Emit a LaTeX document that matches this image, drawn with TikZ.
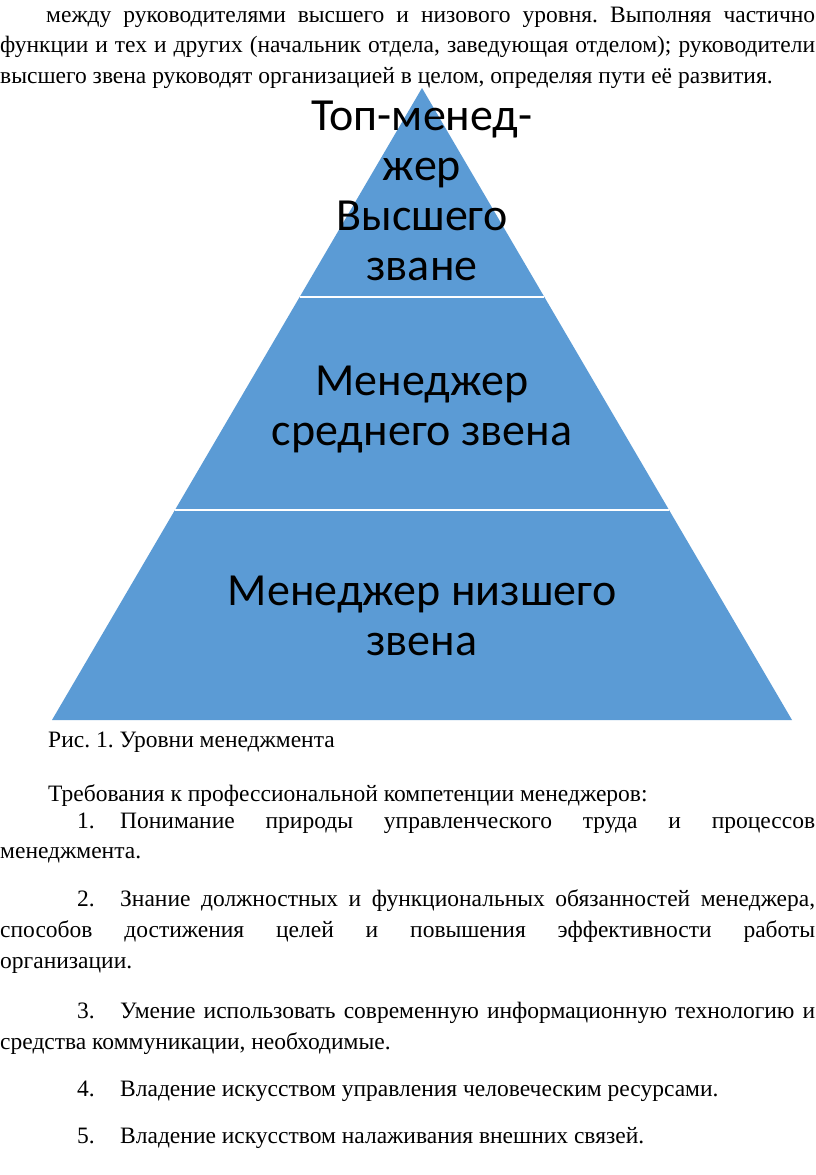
\documentclass[tikz,border=0pt]{standalone}
\usepackage{fontspec}
\setmainfont{Liberation Serif}
\newfontfamily\pyrfont{Carlito}
\usetikzlibrary{calc}
\frenchspacing

\definecolor{pyrblue}{RGB}{91,155,213}

\begin{document}
\begin{tikzpicture}[x=1pt, y=-1pt,
  body/.style={anchor=base west, inner sep=0pt, font=\fontsize{23.5}{28}\selectfont},
  tier/.style={anchor=base, inner sep=0pt, font=\pyrfont\fontsize{46}{50}\selectfont},
  cut/.style={white, line width=2pt}]
  \useasboundingbox[fill=white] (0,0) rectangle (816,1175);

  % text above the figure
  \node[body] (l1) at (46,22)  {\makebox[769pt][s]{между руководителями высшего и низового уровня. Выполняя частично}};
  \node[body] (l2) at (0,52)   {\makebox[815pt][s]{функции и тех и других (начальник отдела, заведующая отделом); руководители}};
  \node[body] (l3) at (0,83)   {высшего звена руководят организацией в целом, определяя пути её развития.};

  % pyramid
  \coordinate (apex) at (422,88);
  \coordinate (bl) at (52,720);
  \coordinate (br) at (792,720);
  \fill[pyrblue] (apex) -- (br) -- (bl) -- cycle;
  \draw[cut] ($(apex)!0.3307!(bl)$) -- ($(apex)!0.3307!(br)$);
  \draw[cut] ($(apex)!0.6677!(bl)$) -- ($(apex)!0.6677!(br)$);

  \node[tier] (top1) at (422,130) {Топ-менед-};
  \node[tier] (top2) at (422,180) {жер};
  \node[tier] (top3) at (422,230) {Высшего};
  \node[tier] (top4) at (422,280) {зване};
  \node[tier] (mid1) at (422,395) {Менеджер};
  \node[tier] (mid2) at (422,445) {среднего звена};
  \node[tier] (low1) at (422,605) {Менеджер низшего};
  \node[tier] (low2) at (422,655) {звена};

  % caption and list
  \node[body] (cap) at (48,747)  {Рис. 1. Уровни менеджмента};
  \node[body] (req) at (48,801)  {Требования к профессиональной компетенции менеджеров:};
  \node[body] (n1)  at (77,828)  {1.};
  \node[body] (i1a) at (120,828) {\makebox[695pt][s]{Понимание природы управленческого труда и процессов}};
  \node[body] (i1b) at (0,858)   {менеджмента.};
  \node[body] (n2)  at (77,906)  {2.};
  \node[body] (i2a) at (120,906) {\makebox[695pt][s]{Знание должностных и функциональных обязанностей менеджера,}};
  \node[body] (i2b) at (0,937)   {\makebox[815pt][s]{способов достижения целей и повышения эффективности работы}};
  \node[body] (i2c) at (0,968)   {организации.};
  \node[body] (n3)  at (77,1018) {3.};
  \node[body] (i3a) at (120,1018){\makebox[695pt][s]{Умение использовать современную информационную технологию и}};
  \node[body] (i3b) at (0,1049)  {средства коммуникации, необходимые.};
  \node[body] (n4)  at (77,1096) {4.};
  \node[body] (i4)  at (120,1096){Владение искусством управления человеческим ресурсами.};
  \node[body] (n5)  at (77,1143) {5.};
  \node[body] (i5)  at (120,1143){Владение искусством налаживания внешних связей.};
\end{tikzpicture}
\end{document}
